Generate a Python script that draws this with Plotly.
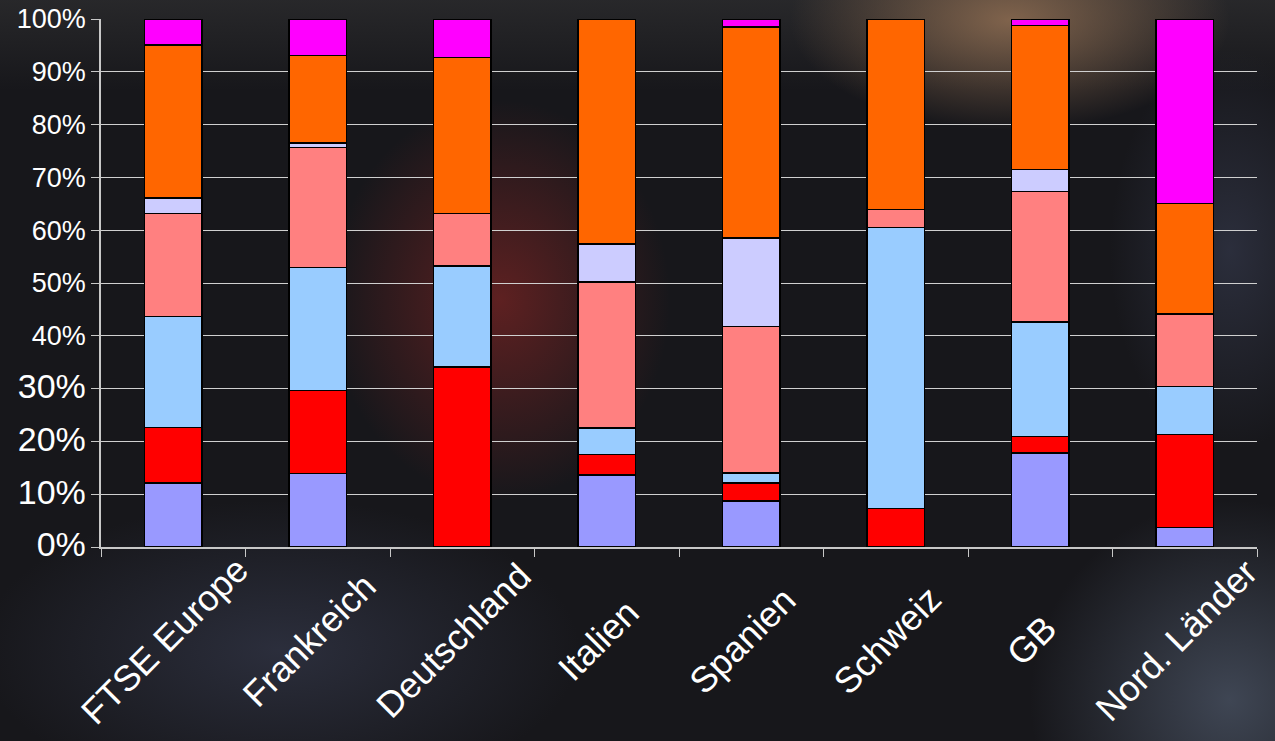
import base64
import plotly.graph_objects as go

categories = ["FTSE Europe", "Frankreich", "Deutschland", "Italien", "Spanien", "Schweiz", "GB", "Nord. Länder"]

# Segment shares (%) from bottom to top
seg1 = [12.1, 13.9, 0.0, 13.6, 8.7, 0.0, 17.8, 3.7]      # lavender blue
seg2 = [10.6, 15.7, 34.1, 3.9, 3.4, 7.3, 3.1, 17.6]      # red
seg3 = [21.0, 23.3, 19.1, 5.0, 1.9, 53.2, 21.7, 9.1]     # light blue
seg4 = [19.5, 22.8, 10.0, 27.7, 27.8, 3.4, 24.7, 13.7]   # salmon
seg5 = [3.0, 0.8, 0.0, 7.2, 16.7, 0.0, 4.2, 0.0]         # pale lavender
seg6 = [29.0, 16.6, 29.55, 42.6, 40.0, 36.1, 27.3, 21.0] # orange
seg7 = [4.9, 6.9, 7.25, 0.0, 1.5, 0.0, 1.2, 34.9]        # magenta

series = [seg1, seg2, seg3, seg4, seg5, seg6, seg7]
colors = ["#9999FF", "#FF0000", "#99CCFF", "#FF8080", "#CCCCFF", "#FF6600", "#FF00FF"]

y_ticks = [0, 10, 20, 30, 40, 50, 60, 70, 80, 90, 100]
y_tick_labels = [
    (f"<span style='font-size:34px'>{v}%</span>" if v <= 30 else f"{v}%") for v in y_ticks
]

# soft photographic background glow (decorative)
bg_svg = """<svg xmlns='http://www.w3.org/2000/svg' width='1275' height='741'>
<defs>
<linearGradient id='t' x1='0' y1='0' x2='0' y2='1'><stop offset='0' stop-color='#2c2c2e' stop-opacity='0.8'/><stop offset='1' stop-color='#2c2c2e' stop-opacity='0'/></linearGradient>
<radialGradient id='r' cx='0.5' cy='0.5' r='0.5'><stop offset='0' stop-color='#6a2222' stop-opacity='0.85'/><stop offset='1' stop-color='#6a2222' stop-opacity='0'/></radialGradient>
<radialGradient id='b' cx='0.5' cy='0.5' r='0.5'><stop offset='0' stop-color='#8a6a50' stop-opacity='0.9'/><stop offset='1' stop-color='#8a6a50' stop-opacity='0'/></radialGradient>
<radialGradient id='g' cx='0.5' cy='0.5' r='0.5'><stop offset='0' stop-color='#505a6c' stop-opacity='0.7'/><stop offset='1' stop-color='#505a6c' stop-opacity='0'/></radialGradient>
<radialGradient id='n' cx='0.5' cy='0.5' r='0.5'><stop offset='0' stop-color='#34384a' stop-opacity='0.7'/><stop offset='1' stop-color='#34384a' stop-opacity='0'/></radialGradient>
</defs>
<rect width='1275' height='741' fill='#17171b'/>
<rect width='1275' height='90' fill='url(#t)'/>
<ellipse cx='500' cy='300' rx='170' ry='200' fill='url(#r)'/>
<ellipse cx='1010' cy='20' rx='220' ry='110' fill='url(#b)'/>
<ellipse cx='1230' cy='700' rx='200' ry='200' fill='url(#g)'/>
<ellipse cx='280' cy='650' rx='300' ry='150' fill='url(#n)'/>
<ellipse cx='1230' cy='250' rx='120' ry='200' fill='url(#n)'/>
</svg>"""
bg_uri = "data:image/svg+xml;base64," + base64.b64encode(bg_svg.encode()).decode()

fig = go.Figure()
for vals, col in zip(series, colors):
    fig.add_trace(go.Bar(
        x=categories, y=vals, marker=dict(color=col, line=dict(color="#000000", width=1.5)),
        showlegend=False, hoverinfo="skip"))

# category labels, centred on each bar like the original (rotated -45°)
for cat in categories:
    fig.add_annotation(
        x=cat, y=0, xref="x", yref="paper", text=cat, showarrow=False,
        textangle=-45, xanchor="center", yanchor="middle", xshift=-9, yshift=-93,
        font=dict(size=36, color="#ffffff", family="Liberation Sans, Arial, sans-serif"),
    )

fig.update_layout(
    barmode="stack", barnorm="percent", bargap=0.6,
    width=1275, height=741,
    margin=dict(l=101, r=18, t=19, b=194),
    paper_bgcolor="#17171b", plot_bgcolor="rgba(0,0,0,0)",
    font=dict(family="Liberation Sans, Arial, sans-serif", color="#ffffff"),
    images=[dict(source=bg_uri, xref="paper", yref="paper", x=-101/1156, y=1 + 19/528,
                 sizex=1275/1156, sizey=741/528, xanchor="left", yanchor="top",
                 sizing="stretch", layer="below")],
)
fig.update_xaxes(
    range=[-0.5, len(categories) - 0.5], autorange=False,
    showticklabels=False, automargin=False,
    showline=True, linecolor="#c8c8c8", linewidth=1.5,
    ticks="outside", ticklen=8, tickcolor="#c8c8c8", tickson="boundaries",
    showgrid=False,
)
fig.update_yaxes(
    range=[0, 100], tickvals=y_ticks, ticktext=y_tick_labels, automargin=False,
    tickfont=dict(size=27, color="#ffffff"),
    showline=True, linecolor="#c8c8c8", linewidth=1.5,
    ticks="outside", ticklen=8, tickcolor="#c8c8c8",
    showgrid=True, gridcolor="#d0d0d0", gridwidth=1.2, zeroline=False,
)
fig.write_html("out.html", config={"displayModeBar": False},
               post_script="document.body.style.margin='0';document.body.style.overflow='hidden';")
